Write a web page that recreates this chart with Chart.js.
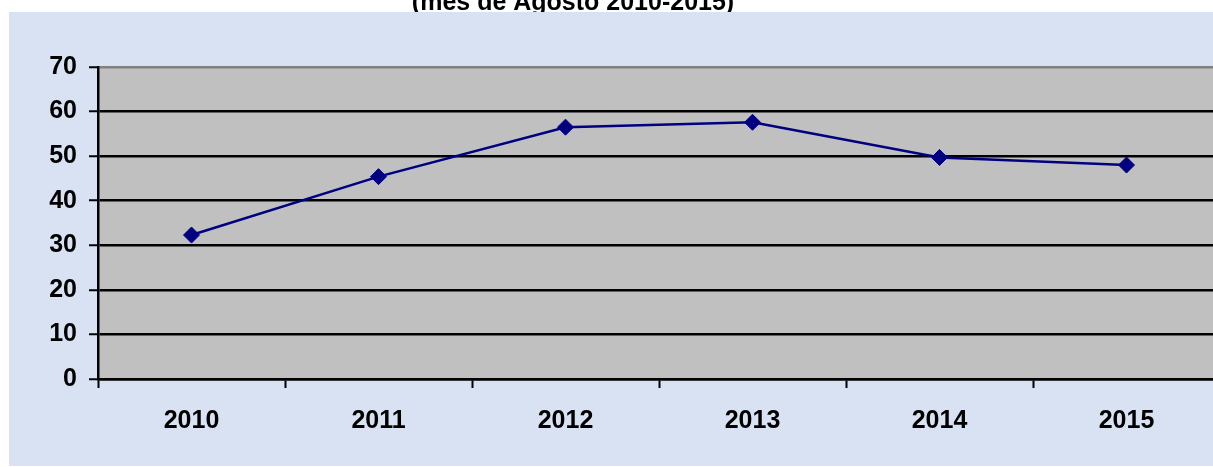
<!DOCTYPE html>
<html>
<head>
<meta charset="utf-8">
<script src="https://cdn.jsdelivr.net/npm/chart.js@4/dist/chart.umd.min.js"></script>
<style>
  html, body { margin: 0; padding: 0; background: #ffffff; overflow: hidden; }
  #lineChart { display: block; }
</style>
</head>
<body>
<canvas id="lineChart" width="1240" height="467"></canvas>
<script>
// Data
const years = ["2010", "2011", "2012", "2013", "2014", "2015"];
const values = [32.3, 45.4, 56.5, 57.6, 49.7, 48.0];
const yTicks = [0, 10, 20, 30, 40, 50, 60, 70];
const titleText = "(mes de Agosto 2010-2015)";

const FONT = "'Liberation Sans', Arial, sans-serif";

// Panel background + cut-off title
const backdrop = {
  id: "backdrop",
  beforeDraw: (chart) => {
    const ctx = chart.ctx;
    ctx.save();
    ctx.fillStyle = "#ffffff";
    ctx.fillRect(0, 0, chart.width, chart.height);
    ctx.fillStyle = "#000000";
    ctx.font = "bold 25px " + FONT;
    ctx.textAlign = "center";
    ctx.textBaseline = "alphabetic";
    ctx.fillText(titleText, 573, 10);
    ctx.fillStyle = "#d9e2f3";
    ctx.fillRect(9, 12, chart.width - 9, 454);
    const a = chart.chartArea;
    ctx.fillStyle = "#c0c0c0";
    ctx.fillRect(a.left, a.top, a.right - a.left, a.bottom - a.top);
    ctx.restore();
  },
};

const lineCtx = document.getElementById("lineChart");
new Chart(lineCtx.getContext("2d"), {
  type: "line",
  data: {
    labels: years,
    datasets: [
      {
        data: values,
        borderColor: "#000080",
        backgroundColor: "#000080",
        borderWidth: 2.5,
        pointStyle: "rectRot",
        pointRadius: 8,
        pointHoverRadius: 8,
        pointBorderWidth: 1,
        pointBorderColor: "#000080",
        tension: 0,
      },
    ],
  },
  options: {
    responsive: false,
    animation: false,
    devicePixelRatio: 1,
    layout: { padding: { left: 0, top: 67, right: 20, bottom: 0 } },
    plugins: {
      legend: { display: false },
      title: { display: false },
      tooltip: { enabled: false },
    },
    scales: {
      x: {
        offset: true,
        grid: {
          offset: true,
          drawOnChartArea: false,
          drawTicks: true,
          tickLength: 9,
          tickWidth: 2,
          tickColor: "#000000",
        },
        border: { color: "#000000", width: 2.5 },
        ticks: {
          color: "#000000",
          font: { family: FONT, size: 25, weight: "bold" },
          padding: 18,
          maxRotation: 0,
          autoSkip: false,
        },
        afterFit: (scale) => { scale.height = 88; },
      },
      y: {
        min: 0,
        max: 70,
        afterBuildTicks: (scale) => { scale.ticks = yTicks.map((v) => ({ value: v })); },
        grid: {
          color: (c) => (c.tick && c.tick.value === 70 ? "#808080" : "#000000"),
          lineWidth: 2.5,
          drawTicks: true,
          tickLength: 9,
          tickColor: "#000000",
          tickWidth: 2,
        },
        border: { color: "#000000", width: 2.5 },
        ticks: {
          color: "#000000",
          font: { family: FONT, size: 25, weight: "bold" },
          padding: 12,
        },
        afterFit: (scale) => { scale.width = 98; },
      },
    },
  },
  plugins: [backdrop],
});
</script>
</body>
</html>
